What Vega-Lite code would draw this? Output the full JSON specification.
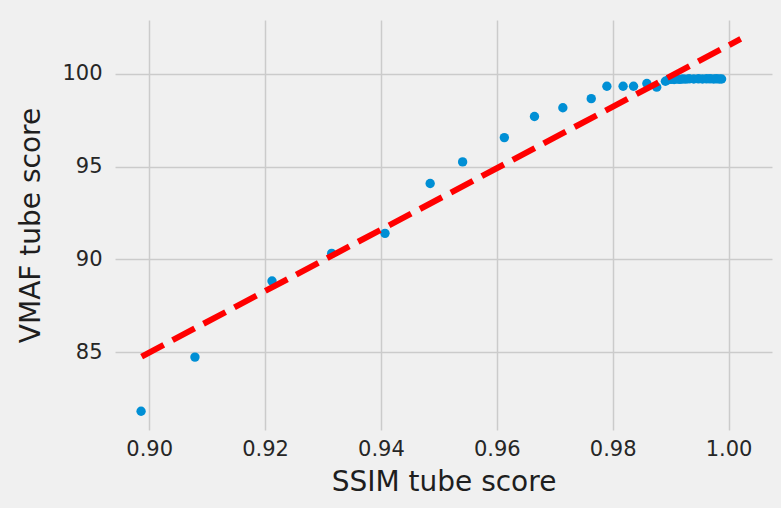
{
  "$schema": "https://vega.github.io/schema/vega-lite/v6.json",
  "width": 657,
  "height": 410,
  "autosize": {"type": "none"},
  "padding": {"left": 115, "top": 20, "right": 9, "bottom": 78},
  "background": "#f0f0f0",
  "config": {
    "view": {"stroke": null, "fill": "#f0f0f0"},
    "font": "DejaVu Sans",
    "axis": {
      "domain": false,
      "ticks": false,
      "tickSize": 0,
      "grid": true,
      "gridColor": "#cbcbcb",
      "gridWidth": 1.5,
      "labelFont": "DejaVu Sans",
      "labelFontSize": 21,
      "labelColor": "#262626",
      "titleFont": "DejaVu Sans",
      "titleFontSize": 28,
      "titleFontWeight": "normal",
      "titleColor": "#1e1e1e"
    }
  },
  "datasets": {
    "pts": [
      {"ssim": 0.8986, "vmaf": 81.81},
      {"ssim": 0.9079, "vmaf": 84.73},
      {"ssim": 0.9212, "vmaf": 88.83},
      {"ssim": 0.9315, "vmaf": 90.32},
      {"ssim": 0.9407, "vmaf": 91.40},
      {"ssim": 0.9485, "vmaf": 94.09},
      {"ssim": 0.9541, "vmaf": 95.25},
      {"ssim": 0.9613, "vmaf": 96.56},
      {"ssim": 0.9665, "vmaf": 97.70},
      {"ssim": 0.9714, "vmaf": 98.17},
      {"ssim": 0.9763, "vmaf": 98.66},
      {"ssim": 0.9790, "vmaf": 99.33},
      {"ssim": 0.9818, "vmaf": 99.33},
      {"ssim": 0.9836, "vmaf": 99.33},
      {"ssim": 0.9859, "vmaf": 99.48},
      {"ssim": 0.9876, "vmaf": 99.28},
      {"ssim": 0.9891, "vmaf": 99.60},
      {"ssim": 0.9896, "vmaf": 99.68},
      {"ssim": 0.9901, "vmaf": 99.70},
      {"ssim": 0.9906, "vmaf": 99.69},
      {"ssim": 0.9911, "vmaf": 99.71},
      {"ssim": 0.9916, "vmaf": 99.70},
      {"ssim": 0.9921, "vmaf": 99.72},
      {"ssim": 0.9926, "vmaf": 99.71},
      {"ssim": 0.9932, "vmaf": 99.73},
      {"ssim": 0.9940, "vmaf": 99.72},
      {"ssim": 0.9948, "vmaf": 99.73},
      {"ssim": 0.9955, "vmaf": 99.72},
      {"ssim": 0.9962, "vmaf": 99.73},
      {"ssim": 0.9968, "vmaf": 99.73},
      {"ssim": 0.9974, "vmaf": 99.72},
      {"ssim": 0.9979, "vmaf": 99.73},
      {"ssim": 0.9984, "vmaf": 99.72},
      {"ssim": 0.9988, "vmaf": 99.72}
    ],
    "fit": [
      {"ssim": 0.8987, "vmaf": 84.76},
      {"ssim": 1.0021, "vmaf": 101.88}
    ]
  },
  "layer": [
    {
      "data": {"name": "pts"},
      "mark": {"type": "point", "filled": true, "opacity": 1, "size": 88, "color": "#008fd5"},
      "encoding": {
        "x": {
          "field": "ssim", "type": "quantitative",
          "scale": {"domain": [0.8941, 1.0075], "nice": false, "zero": false},
          "axis": {"title": "SSIM tube score", "values": [0.90, 0.92, 0.94, 0.96, 0.98, 1.00], "format": ".2f", "labelPadding": 8, "titlePadding": 9}
        },
        "y": {
          "field": "vmaf", "type": "quantitative",
          "scale": {"domain": [80.8, 102.9], "nice": false, "zero": false},
          "axis": {"title": "VMAF tube score", "values": [85, 90, 95, 100], "labelPadding": 13, "titlePadding": 16}
        }
      }
    },
    {
      "data": {"name": "fit"},
      "mark": {"type": "line", "color": "#ff0000", "strokeWidth": 6, "strokeDash": [25, 10]},
      "encoding": {
        "x": {"field": "ssim", "type": "quantitative"},
        "y": {"field": "vmaf", "type": "quantitative"}
      }
    }
  ]
}
